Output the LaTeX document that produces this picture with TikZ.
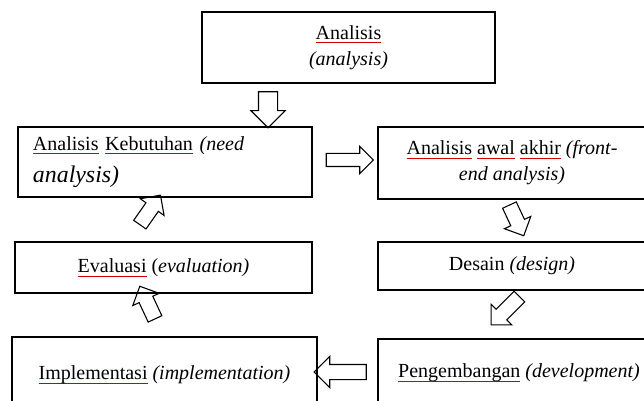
\documentclass[tikz,border=0pt]{standalone}
\usepackage{fontspec}
\setmainfont{Liberation Serif}
\usetikzlibrary{shapes.arrows}
\newsavebox\spellbox
\newcommand\spell[1]{\sbox\spellbox{#1}\rlap{\color{red!80!black}\rule[-2.6pt]{\wd\spellbox}{0.5pt}}\usebox\spellbox}
\begin{document}
\begin{tikzpicture}[x=0.65pt,y=-0.65pt,
  box/.style={draw,line width=0.9pt,inner sep=2pt,align=center,
    font=\fontsize{13}{17}\selectfont},
  blockarrow/.style={single arrow,draw,line width=0.7pt,inner xsep=0pt,
    inner ysep=4.55pt,single arrow head extend=4.55pt}]
\useasboundingbox (0,0) rectangle (644,401);
\clip (0,0) rectangle (644,401);
\node[box,minimum width=190.5pt,minimum height=46.2pt] (analisis) at (348.5,47.5)
  {\spell{Analisis}\\\textit{(analysis)}};
\node[box,minimum height=45.5pt,text width=171.6pt,inner xsep=9.75pt,align=left] (kebutuhan) at (165,162)
  {\spell{Analisis} \spell{Kebutuhan} \textit{(need}\\[4pt]{\fontsize{15.5}{18}\selectfont\itshape analysis)}};
\node[box,minimum width=174.2pt,minimum height=46.8pt] (awal) at (512,163)
  {\spell{Analisis} \spell{awal} \spell{akhir} \textit{(front-}\\\textit{end analysis)}};
\node[box,minimum width=174.2pt,minimum height=31.2pt] (desain) at (512,266)
  {Desain \textit{(design)}};
\node[box,minimum width=183.3pt,minimum height=44.2pt] (pengembangan) at (519,373)
  {\spell{Pengembangan} \textit{(development)}};
\node[box,minimum width=198.3pt,minimum height=49.4pt] (implementasi) at (164.5,375)
  {\spell{Implementasi} \textit{(implementation)}};
\node[box,minimum width=193pt,minimum height=33.2pt] (evaluasi) at (163.5,267.5)
  {\spell{Evaluasi} (\textit{evaluation)}};
% panah
\node[blockarrow,minimum height=23.4pt,inner ysep=5.85pt,single arrow head extend=4.9pt,rotate=270] (a1) at (268,105) {};
\node[blockarrow,minimum height=30.6pt,inner ysep=3.9pt] (a2) at (346.5,160) {};
\node[blockarrow,minimum height=22pt,rotate=-65] (a3) at (515,217) {};
\node[blockarrow,minimum height=26pt,rotate=225] (a4) at (508,308) {};
\node[blockarrow,minimum height=33.8pt,single arrow head extend=5.2pt,rotate=180] (a5) at (344,372) {};
\node[blockarrow,minimum height=23.4pt,rotate=115] (a6) at (149,306) {};
\node[blockarrow,minimum height=23.4pt,rotate=55] (a7) at (148,213) {};
\end{tikzpicture}
\end{document}
